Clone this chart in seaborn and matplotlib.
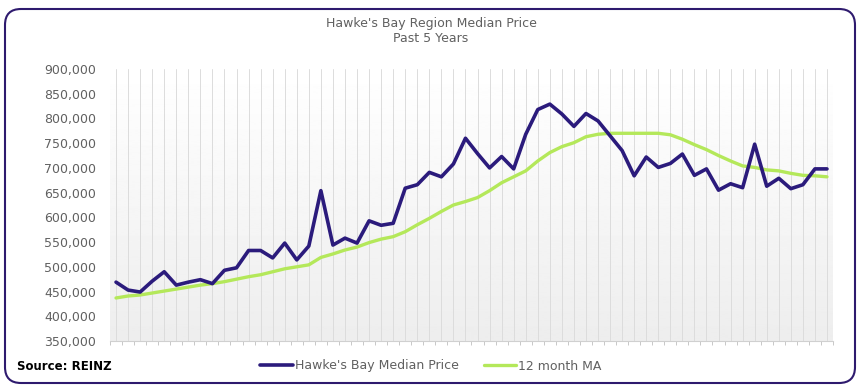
import numpy as np
import pandas as pd
import matplotlib
matplotlib.use('Agg')
import matplotlib.pyplot as plt
from matplotlib.patches import FancyBboxPatch
from matplotlib.ticker import FuncFormatter, MultipleLocator
import seaborn as sns

# monthly values, past 5 years
median_price = [469, 453, 449, 471, 490, 463, 469, 474, 466, 493,
                498, 533, 533, 518, 548, 514, 542, 654, 544, 558,
                548, 593, 584, 588, 659, 666, 691, 682, 708, 760,
                729, 700, 723, 698, 768, 818, 829, 809, 784, 810,
                795, 765, 735, 684, 722, 701, 709, 728, 685, 698,
                655, 668, 660, 748, 663, 679, 658, 666, 698, 698]
ma_12 = [437, 441, 443, 447, 451, 455, 459, 463, 466, 470,
         475, 480, 484, 490, 496, 500, 504, 519, 526, 534,
         540, 549, 556, 561, 571, 585, 598, 612, 625, 632,
         640, 654, 670, 682, 694, 714, 731, 743, 751, 763,
         768, 770, 770, 770, 770, 770, 767, 758, 747, 737,
         725, 714, 704, 701, 696, 694, 689, 685, 684, 682]
series_names = ["Hawke's Bay Median Price", "12 month MA"]

df = pd.DataFrame({
    'month': np.arange(len(median_price)),
    series_names[0]: np.array(median_price) * 1000,
    series_names[1]: np.array(ma_12) * 1000,
})

sns.set_style('white')
plt.rcParams['font.family'] = ['DejaVu Sans']

purple = '#2b1b7c'
green = '#b4e85a'
grey_txt = '#606060'

fig = plt.figure(figsize=(8.62, 3.88), dpi=100)
ax = fig.add_axes([110 / 862, 1 - 341 / 388, 723 / 862, 272 / 388])

# soft vertical gradient behind the plot
grad = np.linspace(0.93, 1.0, 256).reshape(-1, 1)
ax.imshow(grad, extent=(0, 1, 0, 1), transform=ax.transAxes, aspect='auto',
          cmap='gray', vmin=0, vmax=1, origin='lower', zorder=0)

for m in df['month']:
    ax.axvline(m, color='#dcdcdc', lw=0.7, zorder=1)

sns.lineplot(data=df, x='month', y=series_names[1], ax=ax, color=green,
             lw=2.4, label=series_names[1], zorder=3)
sns.lineplot(data=df, x='month', y=series_names[0], ax=ax, color=purple,
             lw=2.6, label=series_names[0], zorder=4)

ax.set_xlim(-0.5, len(df) - 0.5)
ax.set_ylim(350000, 900000)
ax.yaxis.set_major_locator(MultipleLocator(50000))
ax.yaxis.set_major_formatter(FuncFormatter(lambda v, p: f'{int(v):,}'))
ax.set_xticks(np.arange(-0.5, len(df), 1.0))
ax.set_xticklabels([])
ax.tick_params(axis='x', length=3, width=0.6, color='#bfbfbf', direction='out', bottom=True)
ax.tick_params(axis='y', length=0, labelsize=9, labelcolor=grey_txt, pad=10)
ax.set_xlabel('')
ax.set_ylabel('')
for s in ['left', 'right', 'top']:
    ax.spines[s].set_visible(False)
ax.spines['bottom'].set_color('#d0d0d0')
ax.spines['bottom'].set_linewidth(0.8)

handles, labels = ax.get_legend_handles_labels()
ax.get_legend().remove()
order = [labels.index(series_names[0]), labels.index(series_names[1])]
leg = fig.legend([handles[i] for i in order], [labels[i] for i in order],
                 loc='center', bbox_to_anchor=(0.5, 1 - 366 / 388), ncol=2,
                 frameon=False, fontsize=9, handlelength=2.6, handletextpad=0.15,
                 columnspacing=2.0)
for t in leg.get_texts():
    t.set_color(grey_txt)

fig.text(0.5, 1 - 31 / 388, "Hawke's Bay Region Median Price\nPast 5 Years",
         ha='center', va='center', fontsize=9, color=grey_txt, linespacing=1.25)
fig.text(17 / 862, 1 - 366 / 388, 'Source: REINZ', ha='left', va='center',
         fontsize=8.5, fontweight='bold', color='black')

border = FancyBboxPatch((5, 5), 850, 374, boxstyle='round,pad=0,rounding_size=16',
                        transform=None, fill=False, edgecolor='#2e1a6e', lw=1.5)
fig.patches.append(border)

fig.savefig('out.png', dpi=100)
